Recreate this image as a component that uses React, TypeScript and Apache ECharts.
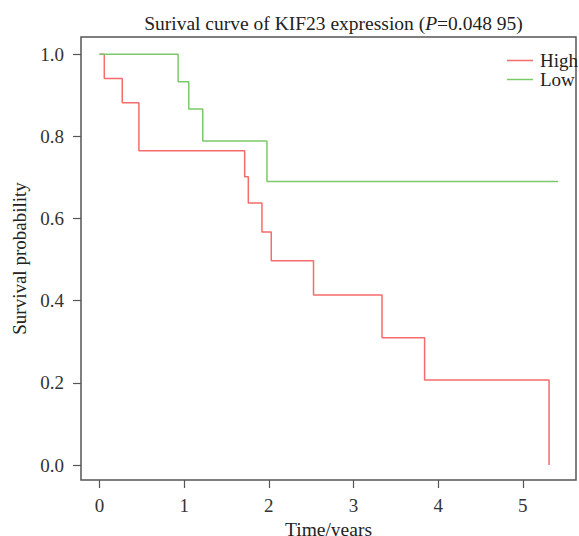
import React, { useEffect, useRef } from "react";
import * as echarts from "echarts";

const highTimes = [0, 0.057, 0.269, 0.466, 1.715, 1.758, 1.919, 2.029, 2.528, 3.337, 3.84, 5.31];
const highSurv = [1.0, 0.941, 0.882, 0.765, 0.702, 0.638, 0.567, 0.497, 0.414, 0.31, 0.207, 0.0];
const lowTimes = [0, 0.929, 1.055, 1.22, 1.978, 5.415];
const lowSurv = [1.0, 0.933, 0.867, 0.789, 0.69, 0.69];
const xTicks = [0, 1, 2, 3, 4, 5];
const yTicks = [0, 0.2, 0.4, 0.6, 0.8, 1.0];

const FONT = "'Liberation Serif', 'DejaVu Serif', serif";
const RED = "#F66B6B";
const GREEN = "#7CC96A";

export default function App() {
  const ref = useRef<HTMLDivElement>(null);
  useEffect(() => {
    const chart = echarts.init(ref.current!, undefined, { renderer: "svg" });
    chart.setOption({
      animation: false,
      backgroundColor: "#fff",
      title: {
        text: "Surival curve of KIF23 expression ({i|P}=0.048 95)",
        left: 328.5,
        textAlign: "center",
        top: 8,
        textStyle: {
          fontFamily: FONT,
          fontSize: 19.5,
          fontWeight: "normal",
          color: "#222",
          rich: { i: { fontFamily: FONT, fontSize: 19.5, fontStyle: "italic", color: "#222" } },
        },
      },
      legend: {
        orient: "vertical",
        left: 502,
        top: 46,
        icon: "rect",
        itemWidth: 26,
        itemHeight: 1.5,
        itemGap: 0,
        textStyle: { fontFamily: FONT, fontSize: 19, color: "#222", lineHeight: 17, padding: [0, 0, 0, 2] },
        data: ["High", "Low"],
      },
      grid: {
        left: 81,
        right: 3,
        top: 37,
        bottom: 56,
        show: true,
        borderColor: "#555",
        borderWidth: 1.5,
        backgroundColor: "#fff",
        outerBoundsMode: "none",
        containLabel: false,
      },
      xAxis: {
        type: "value",
        min: -0.218,
        max: 5.628,
        name: "Time/years",
        nameLocation: "middle",
        nameGap: 38,
        nameTextStyle: { fontFamily: FONT, fontSize: 19.5, color: "#222" },
        axisLine: { show: false, onZero: false },
        splitLine: { show: false },
        axisTick: { show: true, length: 8, customValues: xTicks, lineStyle: { color: "#555", width: 1.2 } },
        axisLabel: { customValues: xTicks, margin: 16, fontFamily: FONT, fontSize: 19, color: "#333" },
      },
      yAxis: {
        type: "value",
        min: -0.0365,
        max: 1.042,
        name: "Survival probability",
        nameLocation: "middle",
        nameGap: 50,
        nameTextStyle: { fontFamily: FONT, fontSize: 19, color: "#222" },
        axisLine: { show: false, onZero: false },
        splitLine: { show: false },
        axisTick: { show: true, length: 8, customValues: yTicks, lineStyle: { color: "#555", width: 1.2 } },
        axisLabel: {
          customValues: yTicks,
          margin: 17,
          fontFamily: FONT,
          fontSize: 19,
          color: "#333",
          formatter: (v: number) => v.toFixed(1),
        },
      },
      series: [
        {
          name: "High",
          type: "line",
          step: "end",
          symbol: "none",
          color: RED,
          lineStyle: { color: RED, width: 1.5 },
          data: highTimes.map((t, i) => [t, highSurv[i]]),
          z: 2,
        },
        {
          name: "Low",
          type: "line",
          step: "end",
          symbol: "none",
          color: GREEN,
          lineStyle: { color: GREEN, width: 1.5 },
          data: lowTimes.map((t, i) => [t, lowSurv[i]]),
          z: 3,
        },
      ],
    });
    return () => chart.dispose();
  }, []);
  return <div ref={ref} style={{ position: "absolute", left: 0, top: 0, width: 579, height: 536 }} />;
}
